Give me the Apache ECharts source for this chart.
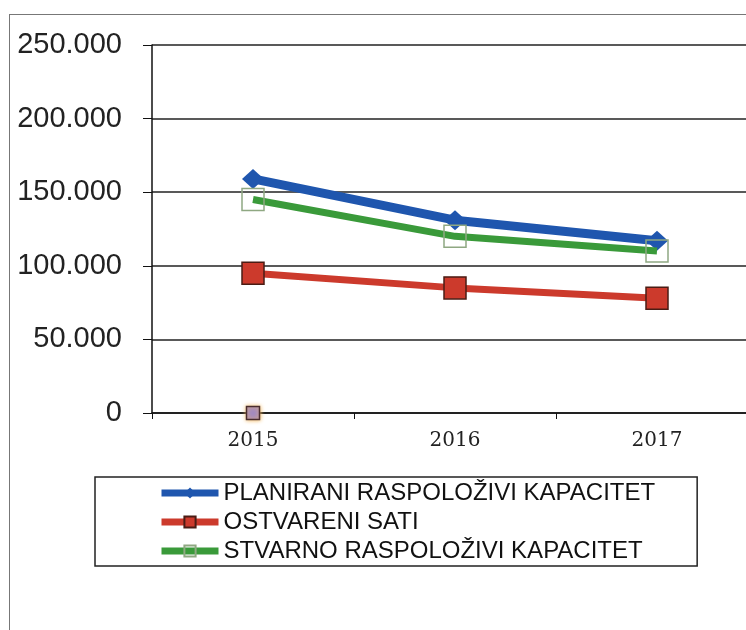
<!DOCTYPE html>
<html>
<head>
<meta charset="utf-8">
<script src="https://cdn.jsdelivr.net/npm/echarts@6/dist/echarts.min.js"></script>
<style>
  html, body { margin: 0; padding: 0; background: #fff; overflow: hidden; }
  .frame {
    position: absolute; left: 9px; top: 14px; width: 760px; height: 640px;
    border-left: 1.5px solid #777; border-top: 1.5px solid #777;
  }
  #chart { position: absolute; left: 0; top: 0; width: 770px; height: 630px; }
</style>
</head>
<body>
<div class="frame"></div>
<div id="chart"></div>
<script>
const years = ['2015', '2016', '2017']
const planirani = [159000, 131000, 117000]
const ostvareni = [95000, 85000, 78000]
const stvarno = [145000, 120000, 110000]
const extraPoint = [0, null, null]
const yTicks = [0, 50000, 100000, 150000, 200000, 250000]

const fmt = (v) => String(v).replace(/\B(?=(\d{3})+(?!\d))/g, '.')

const chart = echarts.init(document.getElementById('chart'))

const option = {
  backgroundColor: 'transparent',
  animation: false,
  grid: { left: 152, right: 12, top: 45, bottom: 217 },
  legend: {
    orient: 'vertical',
    left: 95,
    top: 477,
    padding: [4, 42, 3, 63],
    borderColor: '#222',
    borderWidth: 1.5,
    itemWidth: 57,
    itemHeight: 14,
    itemGap: 5,
    lineStyle: { width: 7 },
    data: ['PLANIRANI RASPOLOŽIVI KAPACITET', 'OSTVARENI SATI', 'STVARNO RASPOLOŽIVI KAPACITET'],
    textStyle: {
      fontFamily: 'Liberation Sans, Arial, sans-serif',
      fontSize: 24,
      lineHeight: 24,
      color: '#111'
    }
  },
  xAxis: {
    type: 'category',
    data: years,
    boundaryGap: true,
    axisLine: { lineStyle: { color: '#111', width: 1.5 } },
    axisTick: { show: true, alignWithLabel: false, length: 6, lineStyle: { color: '#111' } },
    axisLabel: {
      margin: 18,
      fontFamily: 'DejaVu Serif, serif',
      fontSize: 20,
      color: '#222'
    },
    splitLine: { show: false }
  },
  yAxis: {
    type: 'value',
    min: yTicks[0],
    max: yTicks[yTicks.length - 1],
    interval: 50000,
    axisLine: { show: true, lineStyle: { color: '#111', width: 1.5 } },
    axisTick: { show: true, length: 9, lineStyle: { color: '#111' } },
    axisLabel: {
      margin: 30,
      formatter: fmt,
      fontFamily: 'Liberation Sans, Arial, sans-serif',
      fontSize: 29,
      color: '#222'
    },
    splitLine: { show: true, lineStyle: { color: '#222', width: 1.5 } }
  },
  series: [
    {
      name: 'PLANIRANI RASPOLOŽIVI KAPACITET',
      type: 'line',
      data: planirani,
      symbol: 'diamond',
      symbolSize: [22, 20],
      lineStyle: { color: '#1f56ae', width: 9 },
      itemStyle: { color: '#1f56ae' },
      z: 2
    },
    {
      name: 'OSTVARENI SATI',
      type: 'line',
      data: ostvareni,
      symbol: 'rect',
      symbolSize: 22,
      lineStyle: { color: '#cc3a2c', width: 7 },
      itemStyle: { color: '#cc3a2c', borderColor: '#4a1c14', borderWidth: 1.5 },
      z: 3
    },
    {
      name: 'STVARNO RASPOLOŽIVI KAPACITET',
      type: 'line',
      data: stvarno,
      symbol: 'rect',
      symbolSize: 22,
      lineStyle: { color: '#3a9a3a', width: 7 },
      itemStyle: { color: 'rgba(255,255,255,0)', borderColor: '#8fa882', borderWidth: 1.5 },
      z: 4
    },
    {
      name: 'extra',
      type: 'line',
      data: extraPoint,
      symbol: 'rect',
      symbolSize: 13,
      showSymbol: true,
      lineStyle: { width: 0 },
      itemStyle: {
        color: '#a48bbf',
        borderColor: '#4a2e2e',
        borderWidth: 1.5,
        shadowColor: '#f0b860',
        shadowBlur: 4
      },
      z: 5
    }
  ]
}

chart.setOption(option)
</script>
</body>
</html>
